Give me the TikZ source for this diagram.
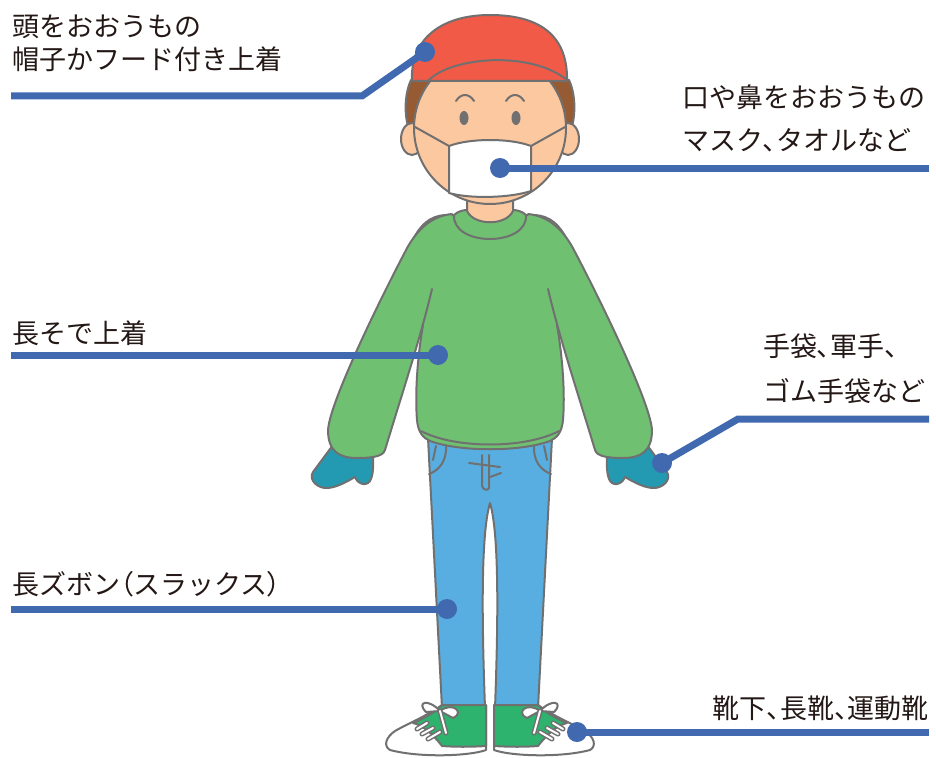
\documentclass[tikz,border=0pt]{standalone}
\usepackage{fontspec}
\setmainfont{Noto Sans CJK JP}
\newfontfamily\stretto[RawFeature=+palt]{Noto Sans CJK JP}
\newcommand{\pz}[1]{{\stretto #1}}

\definecolor{contorno}{HTML}{707070}
\definecolor{pelle}{HTML}{FCC8A0}
\definecolor{capelli}{HTML}{975B33}
\definecolor{cappello}{HTML}{F15A47}
\definecolor{maglia}{HTML}{70C072}
\definecolor{guanti}{HTML}{2399B2}
\definecolor{jeans}{HTML}{58AEE1}
\definecolor{scarpe}{HTML}{2DB36E}
\definecolor{linea}{HTML}{4169B0}
\definecolor{testo}{HTML}{231815}

\tikzset{
  sagoma/.style={draw=contorno, line width=2pt, line join=round, line cap=round},
  laccio/.style={line width=2pt, white, line cap=round},
  richiamo/.style={draw=linea, line width=7pt},
  punto/.style={circle, fill=linea, minimum size=20pt, inner sep=0pt},
  etichetta/.style={anchor=base west, inner sep=0pt, text=testo,
    font=\fontsize{27}{30}\selectfont},
}

\begin{document}
\begin{tikzpicture}[x=1pt,y=-1pt]
        \useasboundingbox (0,0) rectangle (936,757);
        % Pantaloni
        \draw[sagoma, fill=jeans] (428,438) -- (442,708) -- (485,708)
            .. controls (481,600) and (482,530) .. (490,503)
            .. controls (498,530) and (499,600) .. (495,708)
            -- (538,708) -- (552,438) -- cycle;
        \draw[sagoma] (482,455) -- (482,486) .. controls (483,490) and (488,491) .. (489,488) -- (489,455);
        \draw[sagoma] (469,463) -- (500,467);
        \draw[sagoma] (490,477) -- (501,473);
        % Tasche, guanti, maniche e scarpe (sinistra e specchio)
        \foreach \m in {0,1}{
        \begin{scope}[shift={(980*\m,0)}, xscale=1-2*\m]
            \draw[sagoma] (429,474) .. controls (440,470) and (447,460) .. (446,445);
            \draw[sagoma] (436,446) -- (433,460);
            \draw[sagoma, fill=guanti] (333,445) -- (313,472)
                .. controls (308,480) and (318,489) .. (328,488)
                .. controls (338,487) and (348,481) .. (355,477)
                .. controls (358,485) and (368,487) .. (371,479)
                .. controls (374,471) and (373,462) .. (373,450) -- cycle;
            \draw[sagoma, fill=white] (442,705) -- (486,705) -- (486,750)
                .. controls (470,756) and (420,758) .. (390,750)
                .. controls (383,746) and (386,737) .. (395,731)
                .. controls (405,725) and (425,717) .. (442,705) -- cycle;
            \draw[sagoma, fill=scarpe] (442,705) -- (486,705) -- (486,746)
                .. controls (470,747) and (455,747) .. (442,746)
                .. controls (432,733) and (422,725) .. (413,723)
                .. controls (425,718) and (435,712) .. (442,705) -- cycle;
            \foreach \a/\b in {{(417,729)/(427,723)}, {(422,734)/(433,728)}, {(428,739)/(440,732)}}{
                \draw[line width=5pt, contorno, line cap=round] \a -- \b;
                \draw[laccio] \a -- \b;
            }
            \draw[sagoma, fill=white] (440,711) .. controls (428,698) and (416,702) .. (426,712) -- cycle;
            \draw[sagoma, fill=white] (440,711) .. controls (453,701) and (465,713) .. (453,718) -- cycle;
            \draw[line width=5pt, contorno, line cap=round] (440,711) -- (446,733);
            \draw[laccio] (440,711) -- (446,733);
        \end{scope}
        }
        % Maglione
        \draw[sagoma, fill=maglia] (423,325)
            .. controls (417,360) and (415,395) .. (417,420)
            .. controls (418,432) and (423,438) .. (430,441)
            .. controls (460,452) and (520,452) .. (550,441)
            .. controls (557,438) and (562,432) .. (563,420)
            .. controls (565,395) and (563,360) .. (557,325)
            -- (567,240) .. controls (560,225) and (550,216) .. (535,215)
            -- (445,215) .. controls (430,216) and (420,225) .. (413,240) -- cycle;
        \draw[sagoma] (421,431) .. controls (455,449) and (525,449) .. (559,431);
        \foreach \m in {0,1}{
        \begin{scope}[shift={(980*\m,0)}, xscale=1-2*\m]
            \draw[sagoma, fill=maglia] (432,289)
                .. controls (420,340) and (400,400) .. (385,450)
                .. controls (383,457) and (370,458) .. (357,458)
                .. controls (340,458) and (328,452) .. (328,430)
                .. controls (330,400) and (385,290) .. (405,252)
                .. controls (415,232) and (430,216) .. (452,214);
        \end{scope}
        }
        \draw[sagoma, fill=maglia] (454,215) .. controls (452,247) and (528,247) .. (526,215)
            .. controls (522,211) and (516,210) .. (513,210) -- (467,210)
            .. controls (464,210) and (458,211) .. (454,215) -- cycle;
        % Testa
        \draw[sagoma, fill=pelle] (467,190) -- (467,211) .. controls (474,226) and (506,226) .. (513,211) -- (513,190);
        \draw[sagoma, fill=capelli] (411,80) .. controls (404,95) and (404,118) .. (410,132)
            -- (570,132) .. controls (576,118) and (576,95) .. (569,80) -- cycle;
        \draw[sagoma, fill=pelle] (412,139) ellipse [x radius=11, y radius=16];
        \draw[sagoma, fill=pelle] (568,139) ellipse [x radius=11, y radius=16];
        \draw[sagoma, fill=pelle] (490,128) circle [radius=76];
        \draw[sagoma, fill=cappello] (412,81) .. controls (410,40) and (440,15) .. (490,15)
            .. controls (545,15) and (568,40) .. (567,81) -- cycle;
        \draw[sagoma] (428,81) .. controls (450,57) and (530,50) .. (567,80);
        \foreach \m in {0,1}{
        \begin{scope}[shift={(980*\m,0)}, xscale=1-2*\m]
            \fill[contorno] (464,118) ellipse [x radius=4.5, y radius=7];
            \draw[sagoma] (456,101) .. controls (461,93) and (469,93) .. (474,101);
            \draw[sagoma] (449,146) -- (415,127);
        \end{scope}
        }
        \draw[sagoma, fill=white] (449,146) .. controls (470,138) and (510,138) .. (531,146)
            -- (531,191) .. controls (510,198) and (470,199) .. (449,193) -- cycle;
        % Richiami
        \node[punto] (pcappello) at (425,52) {};
        \node[punto] (pmaschera) at (500,168) {};
        \node[punto] (pmaglia) at (438,355) {};
        \node[punto] (pguanto) at (662,463) {};
        \node[punto] (pjeans) at (447,609) {};
        \node[punto] (pscarpa) at (577,732) {};
        \coordinate (acappello) at (11,96);
        \coordinate (gcappello) at (362,96);
        \coordinate (amaschera) at (929,168);
        \coordinate (amaglia) at (11,355);
        \coordinate (aguanto) at (929,419);
        \coordinate (gguanto) at (738,419);
        \coordinate (ajeans) at (11,609);
        \coordinate (ascarpa) at (929,732);
        \draw[richiamo] (acappello) -- (gcappello) -- (pcappello.center);
        \draw[richiamo] (pmaschera.center) -- (amaschera);
        \draw[richiamo] (amaglia) -- (pmaglia.center);
        \draw[richiamo] (pguanto.center) -- (gguanto) -- (aguanto);
        \draw[richiamo] (ajeans) -- (pjeans.center);
        \draw[richiamo] (pscarpa.center) -- (ascarpa);
        % Testi
        \node[etichetta] (tcappello1) at (12,37) {頭をおおうもの};
        \node[etichetta] (tcappello2) at (12,70) {帽子かフード付き上着};
        \node[etichetta] (tmaschera1) at (682,108) {口や鼻をおおうもの};
        \node[etichetta] (tmaschera2) at (682,150) {マスク\pz{、}タオルなど};
        \node[etichetta] (tmaglia) at (12,343) {長そで上着};
        \node[etichetta] (tguanto1) at (763,356) {手袋\pz{、}軍手\pz{、}};
        \node[etichetta] (tguanto2) at (763,401) {ゴム手袋など};
        \node[etichetta] (tjeans) at (12,594) {長ズボン\pz{（}スラックス\pz{）}};
        \node[etichetta, anchor=base east] (tscarpa) at (929,718) {靴下\pz{、}長靴\pz{、}運動靴};
    \end{tikzpicture}
\end{document}
